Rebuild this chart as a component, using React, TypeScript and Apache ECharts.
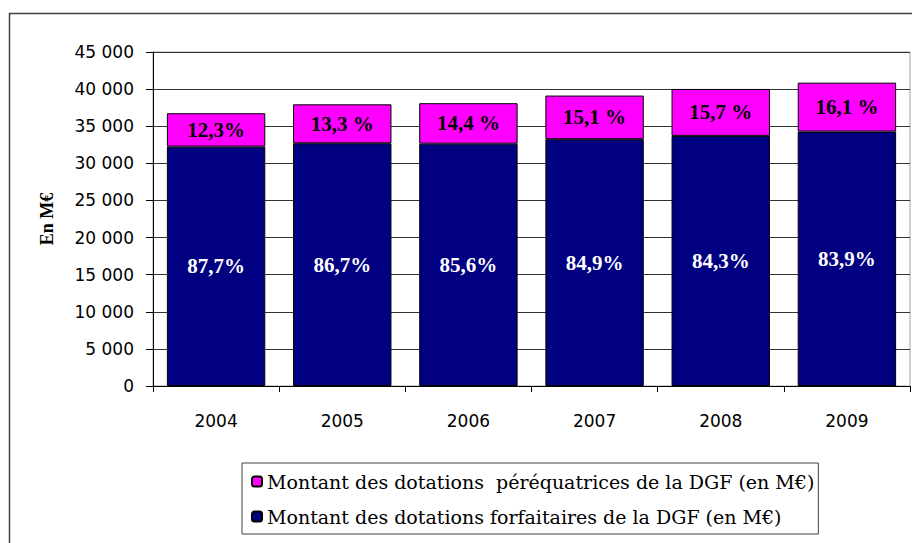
import React, { useEffect, useRef } from "react";
import * as echarts from "echarts";

const categories = ["2004", "2005", "2006", "2007", "2008", "2009"];
const forfaitaires = [32250, 32700, 32650, 33250, 33700, 34280];
const perequatrices = [4500, 5250, 5450, 5880, 6320, 6590];
const forfLabels = ["87,7%", "86,7%", "85,6%", "84,9%", "84,3%", "83,9%"];
const pereqLabels = ["12,3%", "13,3 %", "14,4 %", "15,1 %", "15,7 %", "16,1 %"];
const pereqName = "Montant des dotations  péréquatrices de la DGF (en M€)";
const forfName = "Montant des dotations forfaitaires de la DGF (en M€)";
const yAxisName = "En M€";

function fmt(v: number): string {
  return String(v).replace(/\B(?=(\d{3})+(?!\d))/g, " ");
}

export default function App() {
  const ref = useRef<HTMLDivElement>(null);
  useEffect(() => {
    if (!ref.current) return;
    const chart = echarts.init(ref.current, undefined, { renderer: "svg" });
    chart.setOption({
      animation: false,
      backgroundColor: "#ffffff",
      graphic: [
        {
          type: "rect",
          shape: { x: 9.5, y: 13.5, width: 1000, height: 1000 },
          style: { fill: "none", stroke: "#404040", lineWidth: 1.5 },
          silent: true,
          z: -1,
        },
      ],
      grid: {
        left: 153,
        top: 52,
        right: 2,
        bottom: 157,
        show: true,
        borderColor: "#a0a0a0",
        borderWidth: 1,
        containLabel: false,
      },
      legend: {
        orient: "vertical",
        left: 242,
        top: 463,
        data: [pereqName, forfName],
        itemWidth: 10,
        itemHeight: 10,
        itemGap: 16,
        padding: [9, 4, 8, 9],
        borderColor: "#404040",
        borderWidth: 1,
        textStyle: {
          fontFamily: "DejaVu Serif",
          fontSize: 19,
          color: "#000",
        },
      },
      xAxis: {
        type: "category",
        data: categories,
        axisLine: { lineStyle: { color: "#000", width: 1 } },
        axisTick: { show: true, length: 6, lineStyle: { color: "#000" } },
        axisLabel: {
          margin: 26,
          fontFamily: "DejaVu Sans",
          fontSize: 17,
          color: "#000",
        },
      },
      yAxis: {
        type: "value",
        min: 0,
        max: 45000,
        interval: 5000,
        name: yAxisName,
        nameLocation: "middle",
        nameRotate: 90,
        nameGap: 97,
        nameTextStyle: {
          fontFamily: "Liberation Serif",
          fontWeight: "bold",
          fontSize: 18,
          color: "#000",
        },
        axisLine: { show: true, lineStyle: { color: "#000", width: 1 } },
        axisTick: { show: true, length: 7, lineStyle: { color: "#000" } },
        axisLabel: {
          margin: 19,
          fontFamily: "DejaVu Sans",
          fontSize: 17,
          color: "#000",
          formatter: (v: number) => fmt(v),
        },
        splitLine: { show: true, lineStyle: { color: "#333", width: 1 } },
      },
      series: [
        {
          name: forfName,
          type: "bar",
          stack: "total",
          data: forfaitaires,
          barCategoryGap: "22%",
          itemStyle: { color: "#000080", borderColor: "#000", borderWidth: 1 },
          label: {
            show: true,
            position: "inside",
            formatter: (p: any) => forfLabels[p.dataIndex],
            fontFamily: "Liberation Serif",
            fontWeight: "bold",
            fontSize: 21,
            color: "#ffffff",
          },
        },
        {
          name: pereqName,
          type: "bar",
          stack: "total",
          data: perequatrices,
          barCategoryGap: "22%",
          itemStyle: { color: "#ff00ff", borderColor: "#000", borderWidth: 1 },
          label: {
            show: true,
            position: "inside",
            formatter: (p: any) => pereqLabels[p.dataIndex],
            fontFamily: "Liberation Serif",
            fontWeight: "bold",
            fontSize: 21,
            color: "#000000",
          },
        },
      ],
    });
    return () => chart.dispose();
  }, []);
  return (
    <div
      ref={ref}
      style={{ position: "fixed", left: 0, top: 0, width: 912, height: 543 }}
    />
  );
}
